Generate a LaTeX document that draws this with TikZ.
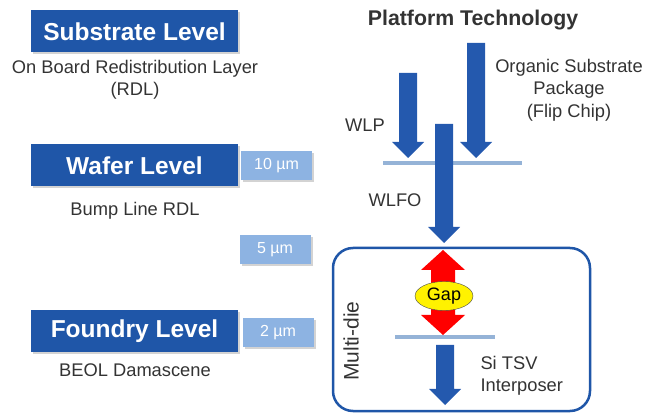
\documentclass[tikz,border=0pt]{standalone}
\usepackage{fontspec}
\setmainfont{Liberation Sans}
\usetikzlibrary{shapes.geometric,shadows}

\definecolor{levelblue}{HTML}{1F56A8}
\definecolor{sizeblue}{HTML}{8DB3E2}
\definecolor{arrowblue}{HTML}{2459AE}
\definecolor{lineblue}{HTML}{95B3D7}
\definecolor{textgray}{HTML}{333333}

\begin{document}
\begin{tikzpicture}[x=1pt, y=-1pt,
  levelbox/.style={fill=levelblue, text=white, minimum width=207pt, minimum height=42pt,
    font=\bfseries\fontsize{24.5}{28}\selectfont, drop shadow={opacity=0.35, shadow xshift=2pt, shadow yshift=-2pt}},
  sizebox/.style={fill=sizeblue, text=white, minimum width=71pt, minimum height=29pt,
    font=\fontsize{16}{19}\selectfont, drop shadow={opacity=0.35, shadow xshift=2pt, shadow yshift=-2pt}},
  lbl/.style={text=textgray, align=center, font=\fontsize{18.3}{22.5}\selectfont},
  floor/.style={draw=lineblue, line width=4pt}]

\useasboundingbox (0,0) rectangle (646,414);

% levels on the left
\node[levelbox] (substrate) at (134.5,31.5) {Substrate Level};
\node[lbl] (rdl) at (135,80) {On Board Redistribution Layer\\(RDL)};

\node[levelbox] (wafer) at (134.5,165.5) {Wafer Level};
\node[sizebox] (ten) at (276.5,166) {10 µm};
\node[lbl] (bump) at (135,211) {Bump Line RDL};

\node[sizebox] (five) at (275,250) {5 µm};

\node[levelbox] (foundry) at (134.5,331) {Foundry Level};
\node[sizebox] (two) at (278,333) {2 µm};
\node[lbl] (beol) at (135,370) {BEOL Damascene};

% platform technology
\node[font=\bfseries\fontsize{21.3}{25}\selectfont, text=textgray] (platform) at (473,20) {Platform Technology};

\draw[floor] (383,163) -- (522,163);
\draw[floor] (395,337) -- (495,337);

\draw[levelblue, line width=2.5pt, rounded corners=20pt] (333,248) rectangle (590,411);

\foreach \cx/\top/\tip in {408/73/158, 476/43/158, 444/124/243, 445/345/405}
  \fill[arrowblue] (\cx-9,\top) -- (\cx+9,\top) -- (\cx+9,\tip-16) -- (\cx+16,\tip-16)
    -- (\cx,\tip) -- (\cx-16,\tip-16) -- (\cx-9,\tip-16) -- cycle;

% gap between the floors
\fill[red] (443,250) -- (465,270) -- (455,270) -- (455,315) -- (465,315) -- (443,335)
  -- (421,315) -- (431,315) -- (431,270) -- (421,270) -- cycle;
\node[ellipse, draw=black!70, fill=yellow, minimum width=58pt, minimum height=29pt,
  inner sep=0pt, font=\fontsize{18}{21}\selectfont] (gap) at (444,296) {Gap};

\node[lbl] (wlp) at (365,125) {WLP};
\node[lbl] (wlfo) at (395,200) {WLFO};
\node[lbl] (organic) at (569,90) {Organic Substrate\\Package\\(Flip Chip)};
\node[lbl, rotate=90, font=\fontsize{21}{25}\selectfont] (multidie) at (351,341) {Multi-die};
\node[lbl, align=left, anchor=west] (tsv) at (477,376) {Si TSV\\Interposer};

\end{tikzpicture}
\end{document}
